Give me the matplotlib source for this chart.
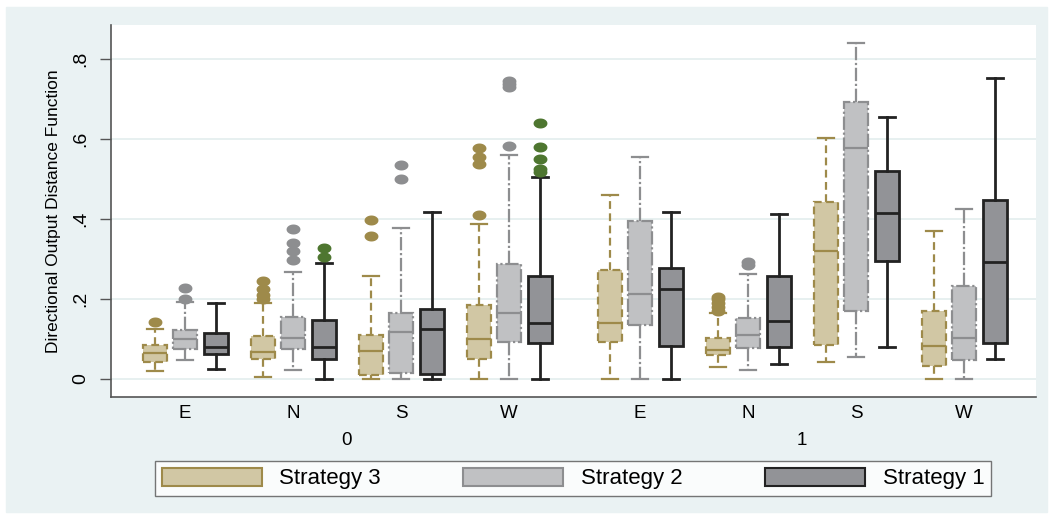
import numpy as np
import matplotlib
matplotlib.use("Agg")
import matplotlib.pyplot as plt
from matplotlib.patches import Patch, Rectangle
from matplotlib.path import Path
from matplotlib.transforms import blended_transform_factory

plt.rcParams['font.family'] = ['Liberation Sans', 'DejaVu Sans']

# categories
regions = ["E", "N", "S", "W", "E", "N", "S", "W"]
over_labels = ["0", "1"]
strategies = ["Strategy 3", "Strategy 2", "Strategy 1"]

# box statistics, one entry per region
s3_lo = [0.020, 0.006, 0.000, 0.000, 0.000, 0.029, 0.042, 0.000]
s3_q1 = [0.043, 0.049, 0.009, 0.051, 0.093, 0.060, 0.085, 0.033]
s3_med = [0.066, 0.068, 0.071, 0.100, 0.141, 0.073, 0.320, 0.083]
s3_q3 = [0.084, 0.107, 0.110, 0.184, 0.273, 0.103, 0.443, 0.171]
s3_hi = [0.125, 0.190, 0.258, 0.387, 0.461, 0.165, 0.603, 0.371]
s3_out = [[0.143], [0.200, 0.210, 0.225, 0.245], [0.358, 0.397],
          [0.410, 0.537, 0.555, 0.577], [], [0.170, 0.180, 0.190, 0.200, 0.206], [], []]

s2_lo = [0.047, 0.023, 0.000, 0.000, 0.000, 0.023, 0.056, 0.000]
s2_q1 = [0.075, 0.075, 0.014, 0.093, 0.135, 0.077, 0.171, 0.048]
s2_med = [0.099, 0.103, 0.118, 0.166, 0.212, 0.109, 0.578, 0.103]
s2_q3 = [0.123, 0.156, 0.166, 0.288, 0.396, 0.153, 0.693, 0.232]
s2_hi = [0.193, 0.268, 0.378, 0.560, 0.556, 0.263, 0.839, 0.425]
s2_out = [[0.200, 0.227], [0.298, 0.320, 0.341, 0.375], [0.501, 0.534],
          [0.583, 0.731, 0.737, 0.745], [], [0.285, 0.293], [], []]

s1_lo = [0.025, 0.000, 0.000, 0.000, 0.000, 0.037, 0.080, 0.050]
s1_q1 = [0.063, 0.050, 0.013, 0.091, 0.083, 0.079, 0.296, 0.089]
s1_med = [0.081, 0.081, 0.124, 0.139, 0.224, 0.144, 0.416, 0.293]
s1_q3 = [0.116, 0.148, 0.174, 0.258, 0.277, 0.257, 0.519, 0.447]
s1_hi = [0.190, 0.291, 0.417, 0.506, 0.417, 0.413, 0.655, 0.753]
s1_out = [[], [0.306, 0.328], [], [0.518, 0.525, 0.550, 0.581, 0.641], [], [], [], []]

series = [
    (s3_lo, s3_q1, s3_med, s3_q3, s3_hi, s3_out),
    (s2_lo, s2_q1, s2_med, s2_q3, s2_hi, s2_out),
    (s1_lo, s1_q1, s1_med, s1_q3, s1_hi, s1_out),
]

fills = ["#d1c7a4", "#c0c1c3", "#929397"]
edges = ["#9e8a4a", "#8d8e90", "#222222"]
flier_cols = ["#9e8a4a", "#8d8e90", "#4e7630"]
styles = [(0, (3.5, 2)), (0, (6, 1.2, 1, 1.2)), "-"]
lws = [1.6, 1.6, 2.0]

# layout (x in pixel-like units)
grp_step = 108
over_gap = 23
box_step = 30.5
centers = np.array([i * grp_step + (i // 4) * over_gap for i in range(len(regions))])

t = np.linspace(0, 2 * np.pi, 41)
oval = Path(np.column_stack([np.cos(t), 0.72 * np.sin(t)]), closed=True)

fig = plt.figure(figsize=(10.52, 5.15), dpi=100, facecolor="white")
fig.add_artist(Rectangle((6 / 1052, 1 - 512 / 515), 1041 / 1052, 505 / 515,
                         transform=fig.transFigure, color="#eaf2f3", zorder=0))
ax = fig.add_axes([111 / 1052, (515 - 397) / 515, (1036 - 111) / 1052, (397 - 25) / 515])
ax.set_facecolor("white")

for k, (lo, q1, med, q3, hi, out) in enumerate(series):
    stats = []
    for i in range(len(regions)):
        stats.append(dict(whislo=lo[i], q1=q1[i], med=med[i], q3=q3[i],
                          whishi=hi[i], fliers=np.array(out[i])))
    pos = centers + (k - 1) * box_step
    ax.bxp(stats, positions=pos, widths=24, capwidths=16, patch_artist=True,
           boxprops=dict(facecolor=fills[k], edgecolor=edges[k], linestyle=styles[k], linewidth=lws[k]),
           whiskerprops=dict(color=edges[k], linestyle=styles[k], linewidth=lws[k]),
           capprops=dict(color=edges[k], linewidth=lws[k]),
           medianprops=dict(color=edges[k], linewidth=lws[k]),
           flierprops=dict(marker=oval, markersize=10, markerfacecolor=flier_cols[k],
                           markeredgecolor="none"),
           zorder=3)

ax.set_xlim(111 - 185, 1036 - 185)
ax.set_ylim(-0.045, 0.885)
ax.set_yticks([0, 0.2, 0.4, 0.6, 0.8])
ax.set_yticklabels(["0", ".2", ".4", ".6", ".8"], rotation=90, va="center")
ax.yaxis.grid(True, color="#e3eded", linewidth=1.2)
ax.set_axisbelow(True)
ax.tick_params(axis="y", length=8, width=1, color="#555555", labelsize=14, pad=8)
ax.set_xticks(centers)
ax.set_xticklabels(regions)
ax.tick_params(axis="x", length=0, labelsize=13.5, pad=6)
for sp in ["top", "right"]:
    ax.spines[sp].set_visible(False)
for sp in ["left", "bottom"]:
    ax.spines[sp].set_color("#555555")
    ax.spines[sp].set_linewidth(1.2)

ax.set_ylabel("Directional Output Distance Function", fontsize=12.5, labelpad=8)

trans = blended_transform_factory(ax.transData, ax.transAxes)
for j, lab in enumerate(over_labels):
    xm = centers[j * 4:(j + 1) * 4].mean()
    ax.text(xm, -0.118, lab, transform=trans, ha="center", va="center", fontsize=13.5)

handles = [Patch(facecolor=fills[k], edgecolor=edges[k], linewidth=1.5, label=strategies[k])
           for k in range(3)]
leg = fig.legend(handles=handles, loc="center", bbox_to_anchor=(573 / 1052, 1 - 478.5 / 515),
                 ncol=3, fontsize=16, frameon=True, fancybox=False, handlelength=4.5,
                 handleheight=0.9, handletextpad=0.8, columnspacing=3.7, borderpad=0.3,
                 borderaxespad=0)
leg.get_frame().set_edgecolor("#555555")
leg.get_frame().set_linewidth(1.0)

fig.savefig("out.png", dpi=100, facecolor="white")
